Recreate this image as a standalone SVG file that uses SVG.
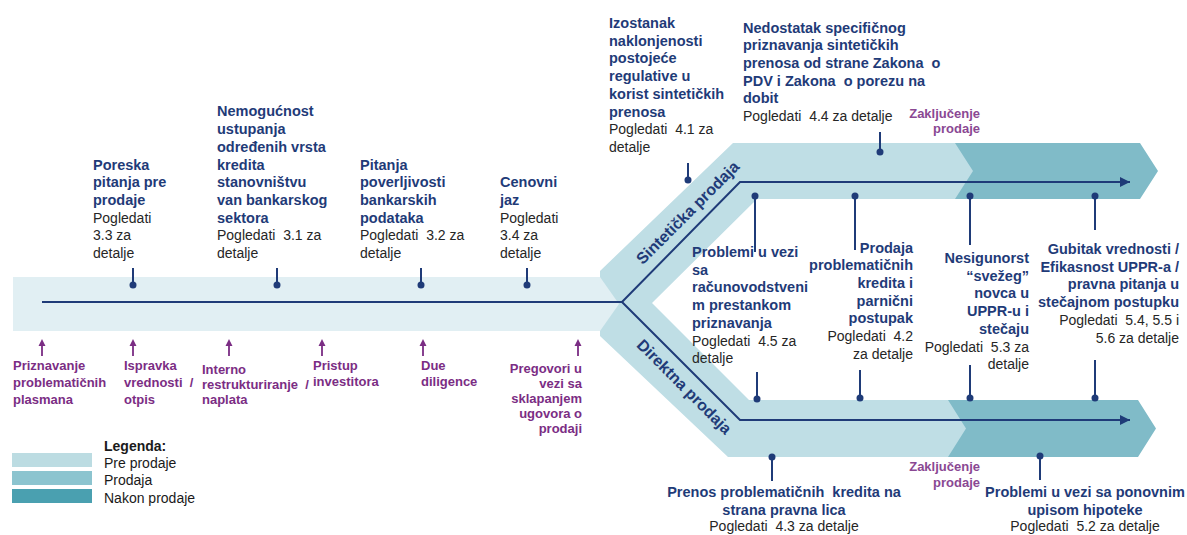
<svg xmlns="http://www.w3.org/2000/svg" width="1187" height="535" viewBox="0 0 1187 535">
<defs>
<style>
text{font-family:"Liberation Sans",Arial,sans-serif}
.t{font-size:14.5px;font-weight:bold;fill:#1f3b78}
.b{font-size:14px;fill:#262626}
.p{font-size:13px;font-weight:bold;fill:#7b2d84}
.z{font-size:13px;font-weight:bold;fill:#8a4893}
.r{font-size:16px;font-weight:bold;fill:#1f3b78}
.lg{font-size:14px;fill:#1a1a1a}
.ln{stroke:#1f3b78;stroke-width:2;fill:none}
.cn{stroke:#1f3b78;stroke-width:2;fill:none}
.dot{fill:#1f3b78}
.pa{stroke:#7b2d84;stroke-width:1.8;fill:none}
.pah{fill:#7b2d84}
.e{text-anchor:end}
.m{text-anchor:middle}
</style>
<marker id="ah" viewBox="0 0 10 10" refX="10" refY="5" markerWidth="5" markerHeight="5" orient="auto" markerUnits="strokeWidth">
<path d="M0,0 L10,5 L0,10 z" fill="#1f3b78"/>
</marker>
</defs>

<g id="bands">
<polygon points="600,271 733,143 1000,143 1000,199 757,199 652,303 749,400 1000,400 1000,457 728,457 600,336" fill="#bfdee5"/>
<polygon points="955,143 1140,143 1158,171 1140,199 955,199 973,171" fill="#80bbc8"/>
<polygon points="948,400 1138,400 1156,428.5 1138,457 948,457 966,428.5" fill="#80bbc8"/>
<polygon points="13,277 600,277 619,304 600,331 13,331" fill="#e1eff3"/>
<text class="r m" transform="translate(688,213) rotate(-45)" dy="5">Sintetička prodaja</text>
<text class="r m" transform="translate(684,387) rotate(45)" dy="5">Direktna prodaja</text>
</g>

<g id="connectors">
<path class="ln" d="M42,302 H622 L740,182 H1130" marker-end="url(#ah)"/>
<path class="ln" d="M622,302 L740,420 H1130" marker-end="url(#ah)"/>
<path class="cn" d="M133,268 V285 M277,268 V285 M421,268 V285 M527,268 V285 M688,163 V180 M880,132 V152 M755,196 V252 M855,196 V250 M970,196 V245 M1095,196 V230 M757,372 V399 M860,370 V398 M970,365 V398 M1095,360 V398 M772,457 V481 M1040,456 V480"/>
<g class="dot">
<circle cx="133" cy="285" r="3.5"/><circle cx="277" cy="285" r="3.5"/><circle cx="421" cy="285" r="3.5"/><circle cx="527" cy="285" r="3.5"/>
<circle cx="688" cy="180" r="3.5"/><circle cx="880" cy="152" r="3.5"/>
<circle cx="755" cy="196" r="3.5"/><circle cx="855" cy="196" r="3.5"/><circle cx="970" cy="196" r="3.5"/><circle cx="1095" cy="196" r="3.5"/>
<circle cx="757" cy="399" r="3.5"/><circle cx="860" cy="398" r="3.5"/><circle cx="970" cy="398" r="3.5"/><circle cx="1095" cy="398" r="3.5"/>
<circle cx="772" cy="457" r="3.5"/><circle cx="1040" cy="456" r="3.5"/>
</g>
<g id="purple-arrows">
<path class="pa" d="M42,356 V345 M133,356 V345 M229,356 V345 M322,356 V345 M423,356 V345 M578,356 V345"/>
<path class="pah" d="M42,339 l-3.5,7 h7 z M133,339 l-3.5,7 h7 z M229,339 l-3.5,7 h7 z M322,339 l-3.5,7 h7 z M423,339 l-3.5,7 h7 z M578,339 l-3.5,7 h7 z"/>
</g>
</g>

<g id="n-poreska">
<text class="t"><tspan x="93" y="169.5">Poreska</tspan><tspan x="93" y="187.2">pitanja pre</tspan><tspan x="93" y="204.9">prodaje</tspan></text>
<text class="b"><tspan x="93" y="222.6">Pogledati</tspan><tspan x="93" y="240.3">3.3 za</tspan><tspan x="93" y="258">detalje</tspan></text>
</g>
<g id="n-nemogucnost">
<text class="t"><tspan x="217" y="116.4">Nemogućnost</tspan><tspan x="217" y="134.1">ustupanja</tspan><tspan x="217" y="151.8">određenih vrsta</tspan><tspan x="217" y="169.5">kredita</tspan><tspan x="217" y="187.2">stanovništvu</tspan><tspan x="217" y="204.9">van bankarskog</tspan><tspan x="217" y="222.6">sektora</tspan></text>
<text class="b"><tspan x="217" y="240.3">Pogledati&#160; 3.1 za</tspan><tspan x="217" y="258">detalje</tspan></text>
</g>
<g id="n-pitanja">
<text class="t"><tspan x="360" y="169.5">Pitanja</tspan><tspan x="360" y="187.2">poverljivosti</tspan><tspan x="360" y="204.9">bankarskih</tspan><tspan x="360" y="222.6">podataka</tspan></text>
<text class="b"><tspan x="360" y="240.3">Pogledati&#160; 3.2 za</tspan><tspan x="360" y="258">detalje</tspan></text>
</g>
<g id="n-cenovni">
<text class="t"><tspan x="500" y="187.2">Cenovni</tspan><tspan x="500" y="204.9">jaz</tspan></text>
<text class="b"><tspan x="500" y="222.6">Pogledati</tspan><tspan x="500" y="240.3">3.4 za</tspan><tspan x="500" y="258">detalje</tspan></text>
</g>
<g id="n-izostanak">
<text class="t"><tspan x="609" y="28">Izostanak</tspan><tspan x="609" y="45.7">naklonjenosti</tspan><tspan x="609" y="63.4">postojeće</tspan><tspan x="609" y="81.1">regulative u</tspan><tspan x="609" y="98.8">korist sintetičkih</tspan><tspan x="609" y="116.5">prenosa</tspan></text>
<text class="b"><tspan x="609" y="134.2">Pogledati&#160; 4.1 za</tspan><tspan x="609" y="151.9">detalje</tspan></text>
</g>
<g id="n-nedostatak">
<text class="t"><tspan x="743" y="32.5">Nedostatak specifičnog</tspan><tspan x="743" y="50.2">priznavanja sintetičkih</tspan><tspan x="743" y="67.9">prenosa od strane Zakona&#160; o</tspan><tspan x="743" y="85.6">PDV i Zakona&#160; o porezu na</tspan><tspan x="743" y="103.3">dobit</tspan></text>
<text class="b"><tspan x="743" y="121">Pogledati&#160; 4.4 za detalje</tspan></text>
</g>
<g id="n-zakljucenje-1">
<text class="z e"><tspan x="980" y="118">Zaključenje</tspan><tspan x="980" y="133">prodaje</tspan></text>
</g>
<g id="n-problemi-racun">
<text class="t"><tspan x="692" y="257">Problemi u vezi</tspan><tspan x="692" y="274.7">sa</tspan><tspan x="692" y="292.4">računovodstveni</tspan><tspan x="692" y="310.1">m prestankom</tspan><tspan x="692" y="327.8">priznavanja</tspan></text>
<text class="b"><tspan x="692" y="345.5">Pogledati&#160; 4.5 za</tspan><tspan x="692" y="363.2">detalje</tspan></text>
</g>
<g id="n-prodaja">
<text class="t e"><tspan x="913" y="252.5">Prodaja</tspan><tspan x="913" y="270.2">problematičnih</tspan><tspan x="913" y="287.9">kredita i</tspan><tspan x="913" y="305.6">parnični</tspan><tspan x="913" y="323.3">postupak</tspan></text>
<text class="b e"><tspan x="913" y="341">Pogledati&#160; 4.2</tspan><tspan x="913" y="358.7">za detalje</tspan></text>
</g>
<g id="n-nesigurnost">
<text class="t e"><tspan x="1029" y="263">Nesigunorst</tspan><tspan x="1029" y="280.7">“svežeg”</tspan><tspan x="1029" y="298.4">novca u</tspan><tspan x="1029" y="316.1">UPPR-u i</tspan><tspan x="1029" y="333.8">stečaju</tspan></text>
<text class="b e"><tspan x="1029" y="351.5">Pogledati&#160; 5.3 za</tspan><tspan x="1029" y="369.2">detalje</tspan></text>
</g>
<g id="n-gubitak">
<text class="t e"><tspan x="1179" y="254">Gubitak vrednosti /</tspan><tspan x="1179" y="271.7">Efikasnost UPPR-a /</tspan><tspan x="1179" y="289.4">pravna pitanja u</tspan><tspan x="1179" y="307.1">stečajnom postupku</tspan></text>
<text class="b e"><tspan x="1179" y="324.8">Pogledati&#160; 5.4, 5.5 i</tspan><tspan x="1179" y="342.5">5.6 za detalje</tspan></text>
</g>
<g id="n-prenos">
<text class="t m"><tspan x="784" y="497">Prenos problematičnih&#160; kredita na</tspan><tspan x="784" y="514.5">strana pravna lica</tspan></text>
<text class="b m"><tspan x="784" y="531">Pogledati&#160; 4.3 za detalje</tspan></text>
</g>
<g id="n-zakljucenje-2">
<text class="z e"><tspan x="980" y="471">Zaključenje</tspan><tspan x="980" y="487">prodaje</tspan></text>
</g>
<g id="n-hipoteka">
<text class="t m"><tspan x="1085" y="497">Problemi u vezi sa ponovnim</tspan><tspan x="1085" y="514.5">upisom hipoteke</tspan></text>
<text class="b m"><tspan x="1085" y="531">Pogledati&#160; 5.2 za detalje</tspan></text>
</g>

<g id="n-priznavanje"><text class="p"><tspan x="13" y="370">Priznavanje</tspan><tspan x="13" y="387">problematičnih</tspan><tspan x="13" y="404">plasmana</tspan></text></g>
<g id="n-ispravka"><text class="p"><tspan x="124" y="370">Ispravka</tspan><tspan x="124" y="387">vrednosti&#160; /</tspan><tspan x="124" y="404">otpis</tspan></text></g>
<g id="n-interno"><text class="p"><tspan x="202" y="374">Interno</tspan><tspan x="202" y="389">restrukturiranje&#160; /</tspan><tspan x="202" y="404">naplata</tspan></text></g>
<g id="n-pristup"><text class="p"><tspan x="313" y="370">Pristup</tspan><tspan x="313" y="386">investitora</tspan></text></g>
<g id="n-due"><text class="p"><tspan x="421" y="370">Due</tspan><tspan x="421" y="386">diligence</tspan></text></g>
<g id="n-pregovori"><text class="p e"><tspan x="582" y="373">Pregovori u</tspan><tspan x="582" y="388">vezi sa</tspan><tspan x="582" y="403">sklapanjem</tspan><tspan x="582" y="418">ugovora o</tspan><tspan x="582" y="433">prodaji</tspan></text></g>

<g id="legend">
<rect x="12" y="453" width="80" height="14" fill="#bcdce2"/>
<rect x="12" y="471" width="80" height="14" fill="#8cc4cf"/>
<rect x="12" y="489" width="80" height="14" fill="#4aa0b0"/>
<text class="lg"><tspan x="104" y="450.5" font-weight="bold">Legenda:</tspan><tspan x="104" y="467.5">Pre prodaje</tspan><tspan x="104" y="485">Prodaja</tspan><tspan x="104" y="502.5">Nakon prodaje</tspan></text>
</g>
</svg>
